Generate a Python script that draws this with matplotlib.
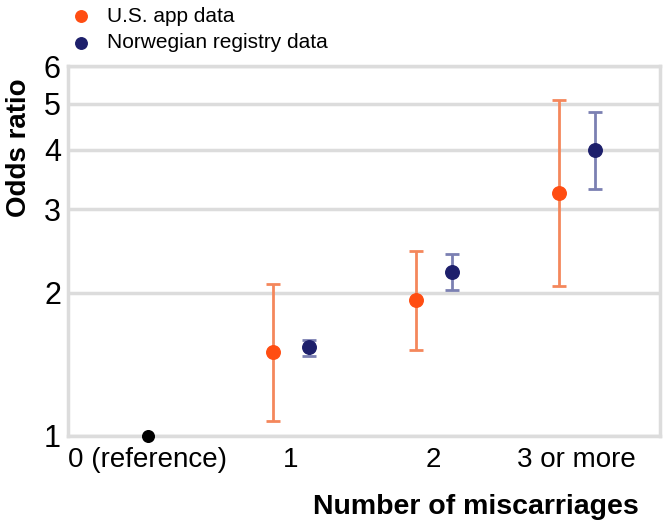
import matplotlib.pyplot as plt
import numpy as np
from matplotlib.ticker import FixedLocator, NullLocator

plt.rcParams["font.family"] = ["Liberation Sans", "DejaVu Sans"]

categories = ["0 (reference)", "1", "2", "3 or more"]
ref_or = 1.0
us_or = [1.50, 1.93, 3.24]
us_lo = [1.075, 1.52, 2.07]
us_hi = [2.09, 2.45, 5.09]
no_or = [1.54, 2.21, 4.00]
no_lo = [1.47, 2.03, 3.31]
no_hi = [1.59, 2.41, 4.80]
yticks = [1, 2, 3, 4, 5, 6]

fig = plt.figure(figsize=(6.65, 5.24), dpi=100)
ax = fig.add_axes([0.102, 0.168, 0.890, 0.706])
ax.set_yscale("log")
ax.set_ylim(1, 6)
ax.set_xlim(-0.56, 3.58)

x = np.arange(1, len(categories))
off = 0.126
us_or_a, no_or_a = np.array(us_or), np.array(no_or)
ax.errorbar(x - off, us_or, yerr=[us_or_a - us_lo, np.array(us_hi) - us_or_a],
            fmt="none", ecolor="#f4875c", elinewidth=2, capsize=5, capthick=2, zorder=3)
ax.errorbar(x + off, no_or, yerr=[no_or_a - no_lo, np.array(no_hi) - no_or_a],
            fmt="none", ecolor="#7b80b2", elinewidth=2, capsize=5, capthick=2, zorder=3)
ax.scatter(x - off, us_or, s=95, color="#ff4d12", zorder=4, label="U.S. app data")
ax.scatter(x + off, no_or, s=95, color="#1d1f6b", zorder=4, label="Norwegian registry data")
ax.scatter([0], [ref_or], s=70, color="black", zorder=4, clip_on=False)

ax.yaxis.set_major_locator(FixedLocator(yticks))
ax.yaxis.set_minor_locator(NullLocator())
ax.set_yticklabels([str(t) for t in yticks], fontsize=22)
ax.set_xticks(range(len(categories)))
ax.set_xticklabels(categories, fontsize=20)
ax.tick_params(axis="y", length=0, pad=5)
ax.tick_params(axis="x", length=0, pad=8)
ax.grid(axis="y", color="#dcdcdc", linewidth=2.5)
ax.set_axisbelow(True)
for s in ["left", "right", "bottom", "top"]:
    ax.spines[s].set_color("#dcdcdc")
    ax.spines[s].set_linewidth(2.5)

ax.set_ylabel("Odds ratio", fontsize=20, fontweight="bold")
ax.yaxis.set_label_coords(-0.06, 0.78)
fig.text(0.96, 0.033, "Number of miscarriages", fontsize=20.5, fontweight="bold",
         ha="right", va="center")

fig.legend(loc="upper left", bbox_to_anchor=(0.062, 1.023), frameon=False,
           fontsize=15, handletextpad=0.25, labelspacing=0.35, markerscale=0.85)

plt.savefig("out.png", dpi=100)
plt.close()
